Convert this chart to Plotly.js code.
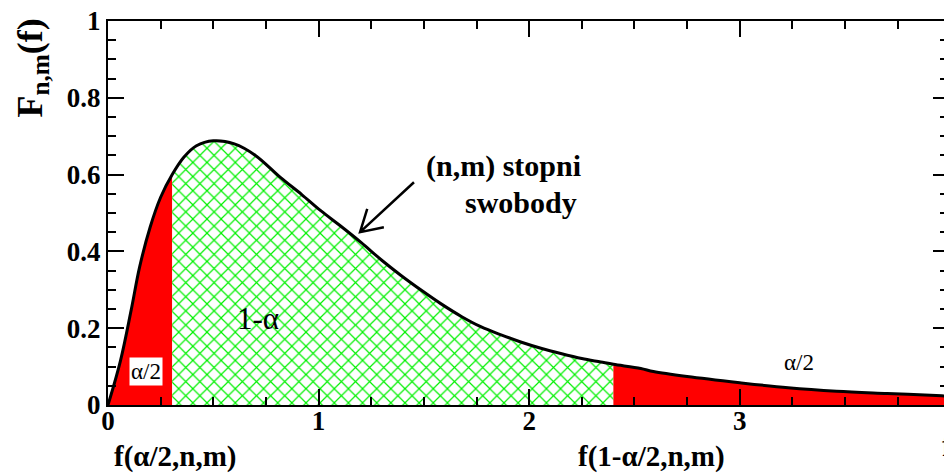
<!DOCTYPE html>
<html>
<head>
<meta charset="utf-8">
<script src="https://cdn.plot.ly/plotly-3.0.1.min.js"></script>
<style>html,body{margin:0;padding:0;background:#fff;}#chart{width:944px;height:473px;}</style>
</head>
<body>
<div id="chart"></div>
<script>
// Values
const fVals = [0, 0.06, 0.11, 0.15, 0.20, 0.25, 0.305, 0.36, 0.42, 0.50, 0.60, 0.70, 0.82, 0.92, 1.01, 1.10, 1.20, 1.30, 1.39, 1.49, 1.58, 1.68, 1.77, 1.87, 1.96, 2.06, 2.15, 2.25, 2.34, 2.40, 2.53, 2.59, 2.75, 3.00, 3.23, 3.46, 3.70, 3.96, 4.00];
const densVals = [0, 0.117, 0.247, 0.359, 0.463, 0.541, 0.600, 0.645, 0.675, 0.688, 0.680, 0.650, 0.592, 0.548, 0.506, 0.468, 0.424, 0.377, 0.338, 0.298, 0.264, 0.230, 0.204, 0.182, 0.164, 0.147, 0.134, 0.121, 0.112, 0.106, 0.095, 0.087, 0.074, 0.058, 0.045, 0.036, 0.030, 0.024, 0.023];
const cutPoints = [0.305, 2.40];   // f(alpha/2,n,m), f(1-alpha/2,n,m)
const xTickVals = [0, 1, 2, 3];
const yTickVals = [0, 0.2, 0.4, 0.6, 0.8, 1];
const yTickText = ['0', '0.2', '0.4', '0.6', '0.8', '1'];

function slice(lo, hi) {
  const xs = [], ys = [];
  fVals.forEach((f, i) => { if (f >= lo && f <= hi) { xs.push(f); ys.push(densVals[i]); } });
  return {xs, ys};
}
const L = slice(0, cutPoints[0]);
const M = slice(cutPoints[0], cutPoints[1]);
const R = slice(cutPoints[1], 10);

const serif = 'Liberation Serif';

const traces = [
  {x: L.xs, y: L.ys, type: 'scatter', mode: 'lines', fill: 'tozeroy', fillcolor: '#ff0000',
   line: {width: 0, shape: 'spline', color: '#ff0000'}, hoverinfo: 'skip'},
  {x: M.xs, y: M.ys, type: 'scatter', mode: 'lines', fill: 'tozeroy', fillcolor: '#ffffff',
   fillpattern: {shape: 'x', fgcolor: '#00f000', bgcolor: '#ffffff', size: 10, solidity: 0.22},
   line: {width: 0, shape: 'spline', color: '#00f000'}, hoverinfo: 'skip'},
  {x: R.xs, y: R.ys, type: 'scatter', mode: 'lines', fill: 'tozeroy', fillcolor: '#ff0000',
   line: {width: 0, shape: 'spline', color: '#ff0000'}, hoverinfo: 'skip'},
  {x: fVals, y: densVals, type: 'scatter', mode: 'lines',
   line: {width: 3, shape: 'spline', color: '#000000'}},
  {x: [0], y: [0], yaxis: 'y2', type: 'scatter', mode: 'markers', marker: {opacity: 0}, hoverinfo: 'skip'}
];

const layout = {
  width: 944, height: 473,
  margin: {l: 108, r: 0, t: 21, b: 68},
  paper_bgcolor: '#ffffff', plot_bgcolor: '#ffffff',
  showlegend: false,
  font: {family: serif, color: '#000000'},
  xaxis: {
    range: [0, 3.97], showgrid: false, zeroline: false,
    showline: true, linecolor: '#000', linewidth: 2, mirror: 'ticks',
    ticks: 'inside', ticklen: 16, tickwidth: 2, tickcolor: '#000',
    ticklabelstandoff: -9,
    tickvals: xTickVals, ticktext: xTickVals.map(String),
    tickfont: {family: serif, size: 27, color: '#000', weight: 'bold'},
    minor: {dtick: 0.25, tick0: 0, ticks: 'inside', ticklen: 8, tickwidth: 2, tickcolor: '#000', showgrid: false}
  },
  yaxis: {
    range: [0, 1], showgrid: false, zeroline: false,
    showline: true, linecolor: '#000', linewidth: 2,
    ticks: 'inside', ticklen: 16, tickwidth: 2, tickcolor: '#000',
    tickvals: yTickVals, ticktext: yTickText,
    tickfont: {family: serif, size: 27, color: '#000', weight: 'bold'},
    minor: {dtick: 0.05, tick0: 0, ticks: 'inside', ticklen: 8, tickwidth: 2, tickcolor: '#000', showgrid: false}
  },
  yaxis2: {
    overlaying: 'y', side: 'right', range: [0, 1], showgrid: false, zeroline: false,
    showline: false, showticklabels: false,
    ticks: 'inside', ticklen: 11, tickwidth: 2, tickcolor: '#000',
    tickvals: yTickVals,
    minor: {dtick: 0.05, tick0: 0, ticks: 'inside', ticklen: 4, tickwidth: 2, tickcolor: '#000', showgrid: false}
  },
  shapes: [
    {type: 'path', xref: 'x', yref: 'y',
     path: 'M 1.453 0.580 L 1.197 0.450 M 1.231 0.511 L 1.197 0.450 L 1.310 0.463',
     line: {color: '#000', width: 2.5}}
  ],
  annotations: [
    {xref: 'paper', yref: 'paper', x: -0.09, y: 0.878, text: 'F<sub>n,m</sub>(f)', textangle: -90,
     showarrow: false, xanchor: 'center', yanchor: 'middle',
     font: {family: serif, size: 36, color: '#000', weight: 'bold'}},
    {xref: 'x', yref: 'y', x: 0.18, y: 0.086, text: 'α/2', showarrow: false,
     bgcolor: '#ffffff', borderpad: 1, font: {family: serif, size: 23, color: '#000'}},
    {xref: 'x', yref: 'y', x: 0.71, y: 0.226, text: '1-α', showarrow: false,
     font: {family: serif, size: 31, color: '#000'}},
    {xref: 'x', yref: 'y', x: 3.28, y: 0.11, text: 'α/2', showarrow: false,
     font: {family: serif, size: 23, color: '#000'}},
    {xref: 'x', yref: 'y', x: 1.88, y: 0.622, text: '(n,m) stopni', showarrow: false,
     font: {family: serif, size: 30, color: '#000', weight: 'bold'}},
    {xref: 'x', yref: 'y', x: 1.96, y: 0.527, text: 'swobody', showarrow: false,
     font: {family: serif, size: 30, color: '#000', weight: 'bold'}},
    {xref: 'x', yref: 'paper', x: 0.32, y: -0.133, text: 'f(α/2,n,m)', showarrow: false,
     xanchor: 'center', yanchor: 'middle',
     font: {family: serif, size: 29, color: '#000', weight: 'bold'}},
    {xref: 'x', yref: 'paper', x: 2.58, y: -0.133, text: 'f(1-α/2,n,m)', showarrow: false,
     xanchor: 'center', yanchor: 'middle',
     font: {family: serif, size: 29, color: '#000', weight: 'bold'}},
    {xref: 'paper', yref: 'paper', x: 0.995, y: -0.105, text: 'f', showarrow: false,
     xanchor: 'left', yanchor: 'middle',
     font: {family: serif, size: 32, color: '#000', weight: 'bold'}}
  ]
};

Plotly.newPlot('chart', traces, layout, {staticPlot: true, displayModeBar: false});
</script>
</body>
</html>
